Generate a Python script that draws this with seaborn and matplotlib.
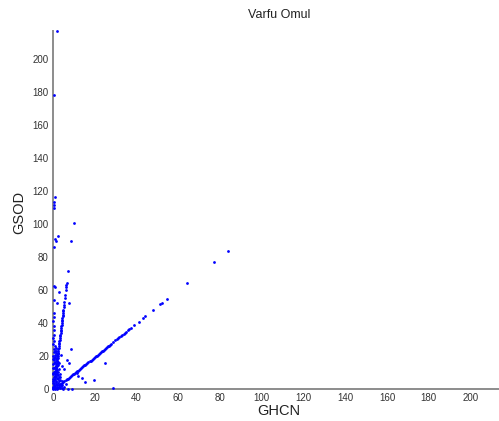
import matplotlib
matplotlib.use("Agg")
import matplotlib.pyplot as plt
import seaborn as sns
import pandas as pd

# Daily precipitation at Varfu Omul: GHCN record vs GSOD record
# Days where both sources agree (along the 1:1 line)
diag_ghcn = [3.0, 3.5, 4.0, 4.5, 5.0, 5.5, 6.0, 6.5, 7.0, 7.5, 8.0, 8.5, 9.0, 9.5,
             10.0, 10.5, 11.0, 11.5, 12.0, 12.5, 13.0, 13.5, 14.0, 14.5, 15.0, 15.5,
             16.0, 16.5, 17.0, 17.5, 18.0, 18.5, 19.0, 19.5, 20.0, 20.5, 21.0, 21.5,
             22.0, 22.5, 23.0, 23.5, 24.0, 24.5, 25.0, 25.5, 26.0, 26.5, 27.0, 27.5, 28.0,
             28.7, 29.7, 30.6, 31.2, 31.8, 32.5, 33.1, 33.8, 34.4, 35.2, 35.9, 36.6,
             37.3, 39.0, 41.3, 43.2, 44.3, 47.7, 51.2, 52.0, 54.4, 64.0, 77.0, 83.6]
diag_gsod = [2.2, 2.8, 3.2, 3.7, 4.2, 4.7, 5.3, 5.8, 6.2, 6.8, 7.3, 7.7, 8.3, 8.8,
             9.2, 9.8, 10.3, 10.8, 11.2, 11.8, 12.3, 12.8, 13.2, 13.8, 14.3, 14.7,
             15.3, 15.8, 16.3, 16.8, 17.2, 17.8, 18.3, 18.8, 19.2, 19.8, 20.3, 20.8,
             21.2, 21.8, 22.3, 22.8, 23.3, 23.8, 24.3, 24.8, 25.3, 25.8, 26.3, 26.8, 27.3,
             28.2, 29.4, 30.2, 30.8, 31.4, 32.1, 32.8, 33.5, 34.1, 34.8, 35.6, 36.3,
             37.0, 38.7, 40.8, 42.8, 44.0, 47.9, 51.3, 51.9, 54.3, 64.0, 76.8, 83.8]

# Days where GSOD reads about ten times the GHCN value
steep_ghcn = [0.9, 1.0, 1.1, 1.2, 1.3, 1.4, 1.5, 1.6, 1.7, 1.8, 1.9, 2.0, 2.1, 2.2,
              2.3, 2.4, 2.5, 2.6, 2.7, 2.8, 2.9, 3.0, 3.1, 3.2, 3.3, 3.4, 3.5, 3.6,
              3.7, 3.8, 3.9, 4.0, 4.1, 4.2, 4.3, 4.4, 4.5, 4.6, 4.7, 4.8, 4.9, 5.0,
              5.2, 5.4, 5.5, 5.7, 5.9, 6.1, 6.3, 6.4, 6.5, 7.0]
steep_gsod = [7, 8, 9, 10, 11, 12, 13, 14, 15, 16, 17, 18, 19, 20,
              21, 22, 23, 24, 25, 26, 27, 28, 29, 30, 31, 32, 33, 34,
              35, 36, 37, 38, 39, 40, 41, 42, 43, 44, 45, 46, 47, 48,
              49.5, 51, 53, 55, 57, 60, 61.6, 62.8, 64.4, 71.5]

# Remaining days: the low-value cluster and scattered disagreements
other_ghcn = [0.2, 0.5, 0.8, 1.1, 1.5, 1.9, 2.3, 2.8, 3.3, 3.8, 4.3, 4.9, 5.5,
              0.3, 0.7, 1.2, 1.6, 2.1, 2.6, 3.1, 3.6, 4.1,
              0.1, 0.6, 1.0, 1.4, 1.8, 2.4, 2.9, 3.4,
              0.4, 0.9, 1.3, 1.7, 2.2, 2.7, 3.2,
              0.2, 0.6, 1.1, 1.5, 2.0, 2.5, 3.0,
              0.3, 0.8, 1.2, 1.6, 2.1, 2.6,
              0.1, 0.5, 1.0, 1.4, 1.9, 2.4, 2.9,
              0.4, 0.7, 1.1, 1.6, 2.0, 2.5,
              0.2, 0.9, 1.3, 1.8, 0.5, 1.0, 1.5, 2.2,
              0.3, 1.2, 0.8, 0.1, 0.4, 0.2, 0.6, 0.3, 0.5, 0.2, 0.4, 0.6,
              0.5, 1.8, 0.5, 1.1, 3.0, 0.6, 1.0, 1.4, 2.2, 8.6, 10.2,
              0.5, 0.5, 0.5, 1.0, 0.5, 2.1,
              7.8, 8.5, 6.5, 7.7, 24.9, 28.9, 19.6, 15.3, 13.7, 12.1, 11.3,
              7.3, 9.0, 5.5, 4.5, 3.8, 3.5, 4.2, 6.0, 2.0,
              0.0, 0.1, 0.0, 0.0, 0.0, 0.0, 0.0]
other_gsod = [0.5, 1.2, 0.3, 2.0, 0.8, 1.5, 0.4, 1.1, 0.6, 1.8, 0.9, 0.3, 1.4,
              2.6, 3.4, 3.0, 4.1, 2.7, 3.6, 2.4, 3.1, 2.2,
              4.8, 5.5, 6.3, 5.1, 6.8, 5.9, 4.6, 5.4,
              7.4, 8.1, 7.6, 8.9, 8.4, 7.1, 9.2,
              9.7, 10.4, 11.2, 10.1, 11.8, 10.6, 12.1,
              12.6, 13.3, 14.1, 12.9, 13.9, 14.6,
              15.2, 15.9, 16.6, 15.4, 17.1, 16.3, 15.8,
              17.8, 18.6, 19.2, 18.1, 19.7, 18.9,
              20.3, 20.9, 21.6, 20.6, 22.4, 23.2, 22.8, 21.9,
              24.1, 25.0, 26.3, 27.5, 29.0, 31.2, 33.0, 35.8, 38.4, 41.0, 43.5, 46.0,
              54.0, 52.0, 62.4, 62.0, 59.0, 86.0, 90.7, 90.0, 93.0, 90.0, 100.4,
              109.5, 111.5, 113.5, 116.5, 178.0, 217.0,
              52.3, 24.0, 17.6, 15.6, 16.0, 0.4, 5.5, 4.4, 6.5, 7.9, 9.5,
              0.2, 0.2, 12.0, 14.0, 20.5, 7.5, 5.0, 3.0, 0.1,
              0.0, 1.0, 3.5, 6.0, 9.0, 13.0, 18.0]

df = pd.DataFrame({
    "GHCN": diag_ghcn + steep_ghcn + other_ghcn,
    "GSOD": diag_gsod + steep_gsod + other_gsod,
})

sns.set_style("white")
plt.rcParams["font.family"] = ["Liberation Sans", "DejaVu Sans"]

W, H = 499, 421
fig = plt.figure(figsize=(W / 100, H / 100), dpi=100)
ax = fig.add_axes([53 / W, 32 / H, 453 / W, 358 / H])

sns.scatterplot(data=df, x="GHCN", y="GSOD", ax=ax, color="#0000ff",
                s=4, linewidth=0, marker="o", clip_on=False, zorder=3)

ax.set_xlim(0, 217)
ax.set_ylim(0, 217)
ax.set_xticks(range(0, 201, 20))
ax.set_yticks(range(0, 201, 20))
ax.set_xlabel("")
ax.set_ylabel("")

for side in ("top", "right"):
    ax.spines[side].set_visible(False)
for side in ("left", "bottom"):
    ax.spines[side].set_color("#8c8c8c")
    ax.spines[side].set_linewidth(1.4)

ax.tick_params(axis="both", direction="in", length=3, width=0.8,
               color="#8c8c8c", labelsize=7, labelcolor="#333333", pad=3)

fig.text(279 / W, 1 - 15 / H, "Varfu Omul", ha="center", va="center",
         fontsize=9, color="#222222")
fig.text(279 / W, 1 - 411 / H, "GHCN", ha="center", va="center",
         fontsize=10.5, color="#222222")
fig.text(19 / W, 1 - 212 / H, "GSOD", ha="center", va="center",
         rotation=90, fontsize=10.5, color="#222222")

fig.savefig("out.png", dpi=100)
